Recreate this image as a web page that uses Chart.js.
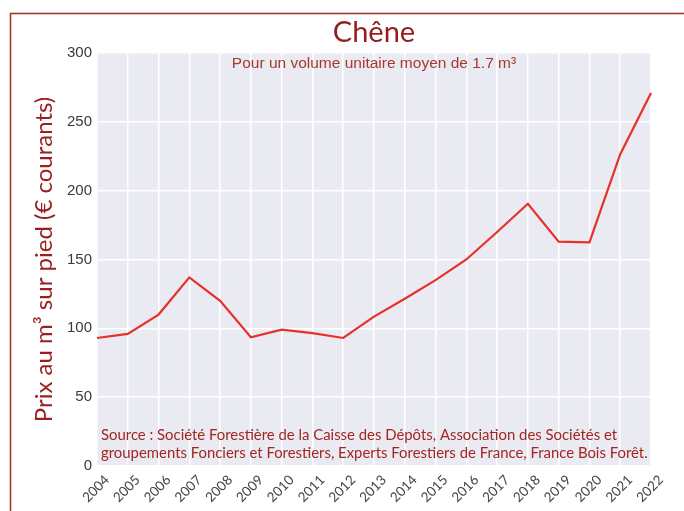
<!DOCTYPE html>
<html>
<head>
<meta charset="utf-8">
<script src="https://cdn.jsdelivr.net/npm/chart.js@4/dist/chart.umd.min.js"></script>
<style>
html,body{margin:0;padding:0;background:#fff;}
#wrap{width:684px;height:511px;position:relative;}
</style>
</head>
<body>
<div id="wrap"><canvas id="c" width="684" height="511"></canvas></div>
<script>
const years = ['2004','2005','2006','2007','2008','2009','2010','2011','2012','2013','2014','2015','2016','2017','2018','2019','2020','2021','2022'];
const prices = [93, 96, 110, 137, 120, 93.5, 99, 96.5, 93, 108.5, 121.5, 135, 150, 170, 190.5, 163, 162.5, 226.5, 271];
const yTicks = [0, 50, 100, 150, 200, 250, 300];
const titleText = 'Chêne';
const subtitleText = 'Pour un volume unitaire moyen de 1.7 m³';
const yTitleText = 'Prix au m³ sur pied (€ courants)';
const sourceLines = [
  'Source : Société Forestière de la Caisse des Dépôts, Association des Sociétés et',
  'groupements Fonciers et Forestiers, Experts Forestiers de France, France Bois Forêt.'
];

const decor = {
  id: 'decor',
  beforeDraw(chart) {
    const ctx = chart.ctx, a = chart.chartArea;
    ctx.save();
    ctx.fillStyle = '#eaeaf2';
    ctx.fillRect(a.left, a.top, a.right - a.left, a.bottom - a.top);
    ctx.strokeStyle = '#a8322d';
    ctx.lineWidth = 1.6;
    ctx.strokeRect(10.5, 13.5, 800, 700);
    ctx.restore();
  },
  afterDraw(chart) {
    const ctx = chart.ctx, a = chart.chartArea;
    ctx.save();
    ctx.fillStyle = '#a8382e';
    ctx.font = '15.5px "Liberation Sans", Arial, sans-serif';
    ctx.textAlign = 'center';
    ctx.textBaseline = 'middle';
    ctx.fillText(subtitleText, (a.left + a.right) / 2, a.top + 11);
    ctx.fillStyle = '#a3261f';
    ctx.font = '14.9px Lato, "Noto Sans", sans-serif';
    ctx.textAlign = 'left';
    ctx.fillText(sourceLines[0], a.left + 4, a.bottom - 31);
    ctx.fillText(sourceLines[1], a.left + 4, a.bottom - 13);
    ctx.restore();
  }
};

new Chart(document.getElementById('c'), {
  type: 'line',
  data: {
    labels: years,
    datasets: [{
      data: prices,
      borderColor: '#e8302a',
      borderWidth: 2.2,
      pointRadius: 0,
      tension: 0,
      fill: false
    }]
  },
  options: {
    responsive: false,
    animation: false,
    layout: { padding: { left: 0, right: 33, top: 0, bottom: 0 } },
    plugins: {
      legend: { display: false },
      tooltip: { enabled: false },
      title: {
        display: true,
        fullSize: false,
        text: titleText,
        color: '#951d1d',
        font: { family: 'Lato, "Noto Sans", sans-serif', size: 29, weight: 'normal', lineHeight: 1.2 },
        padding: { top: 15.5, bottom: 2.7 }
      }
    },
    scales: {
      x: {
        offset: false,
        grid: { color: '#ffffff', lineWidth: 1.5, drawTicks: false },
        border: { display: false },
        ticks: {
          color: '#444444',
          font: { family: 'Lato, "Noto Sans", sans-serif', size: 13.5 },
          minRotation: 45, maxRotation: 45,
          autoSkip: false,
          labelOffset: 10,
          padding: 6
        },
        afterFit(s) { s.height = 45; }
      },
      y: {
        min: 0, max: 300,
        grid: { color: '#ffffff', lineWidth: 1.5, drawTicks: false },
        border: { display: false },
        afterBuildTicks(s) { s.ticks = yTicks.map(v => ({ value: v })); },
        ticks: {
          color: '#3a3a3a',
          font: { family: '"Liberation Sans", Arial, sans-serif', size: 15 },
          padding: 5
        },
        title: {
          display: true,
          text: yTitleText,
          color: '#9a1f1f',
          font: { family: 'Lato, "Noto Sans", sans-serif', size: 24, weight: 'normal', lineHeight: 1.2 },
          padding: { top: 29.5, bottom: 0 }
        },
        afterFit(s) { s.width = 97; }
      }
    }
  },
  plugins: [decor]
});
</script>
</body>
</html>
